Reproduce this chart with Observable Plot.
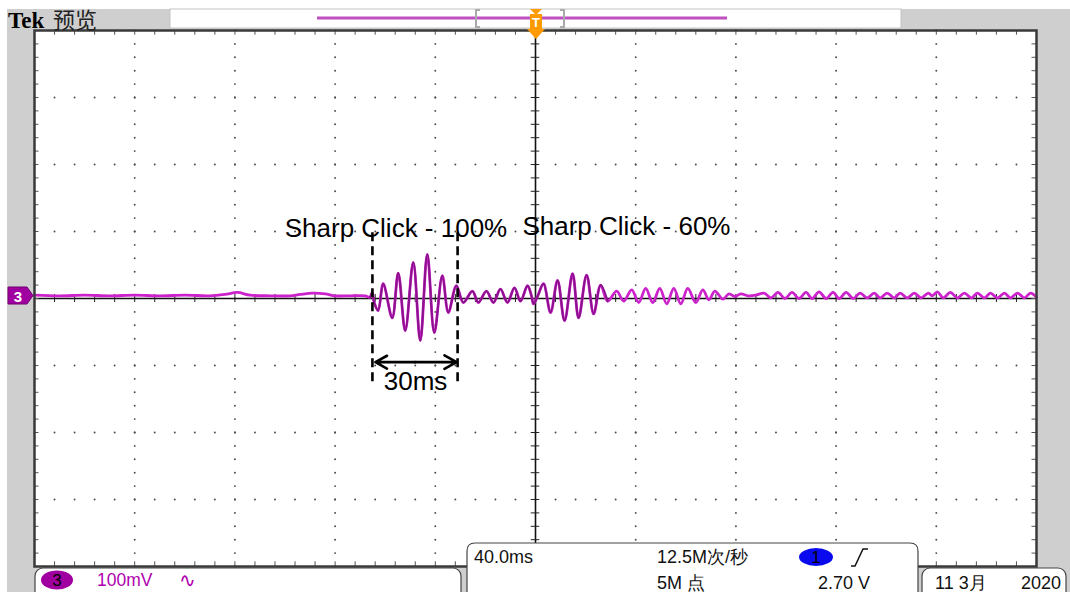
<!DOCTYPE html>
<html><head><meta charset="utf-8">
<script src="https://cdn.jsdelivr.net/npm/d3@7"></script>
<script src="https://cdn.jsdelivr.net/npm/@observablehq/plot@0.6"></script>
<style>
html,body{margin:0;padding:0;background:#fff;}
#chart{position:relative;width:1070px;height:592px;overflow:hidden;}
</style></head><body><div id="chart"></div>
<script>
// ---- Trace (channel 3): time in ms (40 ms/div), amplitude in mV (100 mV/div)
const traceT = [
  -200, -190, -180, -170, -160, -150, -140, -130, -124, -119,
  -114, -106, -98, -94, -89, -84, -80, -74, -68, -66,
  -65.2, -64.4, -62.8, -60.8, -57.2, -54.8, -52.0, -48.8, -46.0, -43.2,
  -40.4, -37.2, -34.8, -31.6, -28.8, -25.2, -22.8, -19.6, -16.8, -14.0,
  -11.2, -8.4, -6.0, -3.2, -1.6, -0.8, 0.8, 3.2, 6.0, 8.8,
  11.6, 14.8, 17.2, 20.4, 23.2, 26.0, 28.8, 32.4, 35.2, 38.4,
  41.2, 44.0, 46.8, 49.6, 52.4, 55.2, 58.0, 60.8, 64.0, 66.8,
  69.2, 71.6, 74.8, 77.2, 79.6, 82.0, 84.8, 88.0, 91.2, 94.0,
  96.8, 99.6, 102.4, 105.2, 108.0, 110.4, 113.2, 116.0, 118.8, 121.2,
  124.0, 126.8, 129.6, 132.4, 135.2, 137.6, 140.4, 143.2, 145.6, 148.4,
  151.2, 154.0, 156.8, 158.4, 160.4, 162.8, 165.6, 168.4, 171.2, 174.0,
  176.4, 179.2, 181.6, 184.4, 187.2, 189.6, 192.4, 195.2, 197.6, 200.0
];
const traceMV = [
  5, 4, 5, 4, 5, 4, 5, 4, 6, 9,
  5, 4, 4, 6, 8, 7, 4, 4, 4, 2,
  9, -6, -18, 22, -29, 38, -48, 54, -63, 66,
  -51, 34, -21, 19, -6, 11, -6, 11, -6, 14,
  -6, 16, -4, 19, 4, -8, 3, 22, -21, 27,
  -33, 37, -29, 35, -23, 20, -4, 11, -4, 13,
  -6, 15, -6, 15, -8, 15, -8, 15, -6, 13,
  -2, 11, -1, 7, 3, 7, 4, 5, 8, 1,
  9, 0, 9, 0, 9, 0, 10, 0, 9, 0,
  9, 0, 8, 1, 8, 1, 8, 1, 8, 1,
  8, 1, 8, 4, 10, 1, 9, 1, 8, 1,
  8, 1, 8, 1, 8, 1, 8, 1, 8, 2
];

// ---- Annotations
const labelText = ["Sharp Click - 100%", "Sharp Click - 60%", "30ms"];
const labelT = [-55.7, 36.3, -47.9];
const labelMV = [104, 107, -124];
const spanT = [-65.1, -31.1];          // 30 ms window markers
const spanTopMV = 98, spanBottomMV = -131, spanArrowMV = -95;

// ---- Status bar texts
const chanLabel = "3", chanScale = "100mV";
const timeBase = "40.0ms", sampleRate = "12.5M次/秒", recLength = "5M 点";
const trigSrc = "1", trigLevel = "2.70 V";
const dateDay = "11 3月", dateYear = "2020";

// ---- Build tables
const trace = traceT.map((t, i) => ({t, mv: traceMV[i]}));
const burst = trace.filter(d => d.t >= -66 && d.t <= 30);
const labels = labelText.map((s, i) => ({label: s, t: labelT[i], mv: labelMV[i]}));
const spanMid = (spanT[0] + spanT[1]) / 2;
const arrows = [{x1: spanMid, x2: spanT[0] + 1.2}, {x1: spanMid, x2: spanT[1] - 0.4}];

const xMinor = d3.range(-200, 200.001, 8);
const yMinor = d3.range(-400, 400.001, 20);
const xMajor = d3.range(-160, 161, 40).filter(v => v !== 0);
const yMajor = d3.range(-300, 301, 100).filter(v => v !== 0);
const gridDots = [];
for (const y of yMajor) for (const x of xMinor) gridDots.push({t: x, mv: y});
for (const x of xMajor) for (const y of yMinor) gridDots.push({t: x, mv: y});

const FONT = "Liberation Sans, Arial, sans-serif";

const chart = Plot.plot({
  width: 1070, height: 592,
  marginLeft: 34, marginRight: 34, marginTop: 30, marginBottom: 26,
  x: {domain: [-200, 200], axis: null},
  y: {domain: [-400, 400], axis: null},
  style: {background: "transparent", overflow: "visible", fontFamily: FONT},
  marks: [
    Plot.frame({fill: "white"}),
    Plot.dot(gridDots, {x: "t", y: "mv", r: 0.95, fill: "#4a4a4a"}),
    Plot.ruleY([0], {stroke: "#111", strokeWidth: 1.6}),
    Plot.ruleX([0], {stroke: "#111", strokeWidth: 1.6}),
    Plot.ruleX(xMinor, {y1: -6, y2: 6, stroke: "#222", strokeWidth: 1}),
    Plot.ruleY(yMinor, {x1: -1.7, x2: 1.7, stroke: "#222", strokeWidth: 1}),
    Plot.ruleX(xMinor, {y1: 400, y2: 393, stroke: "#555", strokeWidth: 1}),
    Plot.ruleX(xMinor, {y1: -400, y2: -393, stroke: "#555", strokeWidth: 1}),
    Plot.ruleY(yMinor, {x1: -200, x2: -198.2, stroke: "#555", strokeWidth: 1}),
    Plot.ruleY(yMinor, {x1: 200, x2: 198.2, stroke: "#555", strokeWidth: 1}),
    Plot.line(trace, {x: "t", y: "mv", stroke: "#cc22cc", strokeWidth: 2.8, curve: "catmull-rom"}),
    Plot.line(burst, {x: "t", y: "mv", stroke: "#8a128a", strokeWidth: 2.0, curve: "catmull-rom"}),
    Plot.ruleX(spanT, {y1: spanTopMV, y2: spanBottomMV, stroke: "black", strokeWidth: 2.6, strokeDasharray: "9,5"}),
    Plot.arrow(arrows, {x1: "x1", x2: "x2", y1: spanArrowMV, y2: spanArrowMV, stroke: "black", strokeWidth: 2.6, headLength: 20, headAngle: 58}),
    Plot.text(labels, {x: "t", y: "mv", text: "label", fontSize: 26, fontFamily: FONT, fill: "black"}),
    Plot.frame({stroke: "#3a3a3a", strokeWidth: 2.5})
  ]
});
document.getElementById("chart").appendChild(chart);

// ---- Oscilloscope chrome
const svg = d3.select(chart);
svg.insert("rect", ":first-child").attr("x", 7).attr("y", 9).attr("width", 1063).attr("height", 583).attr("fill", "#cfcfcf");
const ov = svg.append("g").attr("font-family", FONT).attr("text-anchor", "start");

// top bar
ov.append("rect").attr("x", 170).attr("y", 9).attr("width", 731).attr("height", 19).attr("fill", "white").attr("stroke", "#c4c4c4");
ov.append("text").attr("x", 8).attr("y", 28).attr("font-family", "Liberation Serif, serif").attr("font-weight", "bold").attr("font-size", 23).attr("fill", "#000").text("Tek");
ov.append("text").attr("x", 53).attr("y", 28).attr("font-family", "Noto Sans CJK SC, sans-serif").attr("font-size", 22).attr("fill", "#222").text("预览");
ov.append("line").attr("x1", 317).attr("x2", 727).attr("y1", 18).attr("y2", 18).attr("stroke", "#c050c0").attr("stroke-width", 3);
ov.append("path").attr("d", "M480,10 h-4 v17 h4").attr("stroke", "#aaa").attr("stroke-width", 2).attr("fill", "none");
ov.append("path").attr("d", "M560,10 h4 v17 h-4").attr("stroke", "#aaa").attr("stroke-width", 2).attr("fill", "none");
ov.append("path").attr("d", "M530,9 L542,9 L536,15 Z").attr("fill", "#ff9a00");
ov.append("rect").attr("x", 530).attr("y", 14).attr("width", 12).attr("height", 15).attr("fill", "#ff9a00");
ov.append("text").attr("x", 536).attr("y", 27).attr("text-anchor", "middle").attr("font-weight", "bold").attr("font-size", 13).attr("fill", "white").text("T");
ov.append("path").attr("d", "M527,29 L545,29 L536,39 Z").attr("fill", "#ff9a00");

// channel marker on left
ov.append("path").attr("d", "M8,287 L27,287 L33,295.5 L27,304 L8,304 Z").attr("fill", "#a000a0").attr("stroke", "#700070");
ov.append("text").attr("x", 18).attr("y", 301.5).attr("text-anchor", "middle").attr("font-weight", "bold").attr("font-size", 15).attr("fill", "white").text(chanLabel);

// bottom channel box
ov.append("rect").attr("x", 35).attr("y", 568).attr("width", 426).attr("height", 40).attr("rx", 8).attr("fill", "white").attr("stroke", "#444").attr("stroke-width", 1.2);
ov.append("ellipse").attr("cx", 57).attr("cy", 580).attr("rx", 16).attr("ry", 9.5).attr("fill", "#a000a0");
ov.append("text").attr("x", 57).attr("y", 586).attr("text-anchor", "middle").attr("font-size", 17).attr("fill", "#000").text(chanLabel);
ov.append("text").attr("x", 97).attr("y", 586).attr("font-size", 17.5).attr("fill", "#b000b0").text(chanScale);
ov.append("text").attr("x", 179).attr("y", 587).attr("font-size", 20).attr("fill", "#b000b0").attr("font-family", "DejaVu Sans, sans-serif").text("∿");

// horizontal / acquisition box
ov.append("path").attr("d", "M467,600 V551 Q467,543 475,543 H910 Q918,543 918,551 V600 Z").attr("fill", "white").attr("stroke", "#444").attr("stroke-width", 1.2);
ov.append("text").attr("x", 474).attr("y", 563).attr("font-size", 18).attr("fill", "#111").text(timeBase);
ov.append("text").attr("x", 657).attr("y", 563).attr("font-size", 18).attr("fill", "#111").text(sampleRate);
ov.append("text").attr("x", 657).attr("y", 589).attr("font-size", 18).attr("fill", "#111").text(recLength);
ov.append("ellipse").attr("cx", 816).attr("cy", 557).attr("rx", 17).attr("ry", 9).attr("fill", "#0a0aee");
ov.append("text").attr("x", 816).attr("y", 563).attr("text-anchor", "middle").attr("font-size", 17).attr("fill", "#000").text(trigSrc);
ov.append("path").attr("d", "M851,566 L855,566 L863,549 L868,549").attr("stroke", "#111").attr("stroke-width", 1.5).attr("fill", "none");
ov.append("text").attr("x", 818).attr("y", 589).attr("font-size", 18).attr("fill", "#111").text(trigLevel);

// date box
ov.append("rect").attr("x", 922).attr("y", 568).attr("width", 144).attr("height", 40).attr("rx", 8).attr("fill", "white").attr("stroke", "#444").attr("stroke-width", 1.2);
ov.append("text").attr("x", 935).attr("y", 589).attr("font-size", 18).attr("fill", "#111").text(dateDay);
ov.append("text").attr("x", 1021).attr("y", 589).attr("font-size", 18).attr("fill", "#111").text(dateYear);
</script></body></html>
